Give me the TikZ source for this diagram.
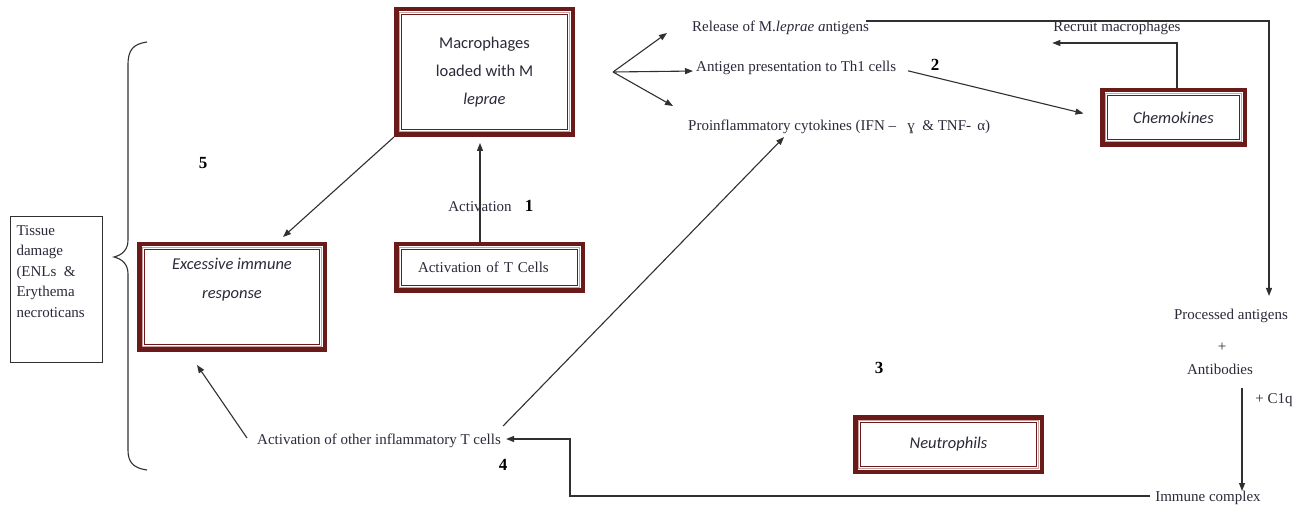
\documentclass[tikz,border=0pt]{standalone}
\usepackage{fontspec}
\setmainfont{Liberation Serif}
\newfontfamily\calib{Carlito}
\usetikzlibrary{arrows.meta}
\definecolor{maroon}{HTML}{6B1A1A}
\definecolor{pinkline}{HTML}{C9A3A3}
\definecolor{txt}{HTML}{2A2A3A}
\definecolor{ln}{HTML}{303030}
\begin{document}
\begin{tikzpicture}[x=1pt,y=-1pt,
  every node/.style={text=txt},
  dbox/.style={draw=maroon, line width=4.5pt, fill=white, inner sep=0pt, align=center,
    font=\calib\fontsize{16.5pt}{28pt}\selectfont,
    path picture={
      \draw[pinkline, line width=1pt] ([shift={(3.2pt,-3.2pt)}]path picture bounding box.north west) rectangle ([shift={(-3.2pt,3.2pt)}]path picture bounding box.south east);
      \draw[maroon, line width=1.3pt] ([shift={(5.5pt,-5.5pt)}]path picture bounding box.north west) rectangle ([shift={(-5.5pt,5.5pt)}]path picture bounding box.south east);}},
  lbl/.style={inner sep=0pt, font=\fontsize{15pt}{18pt}\selectfont},
  num/.style={inner sep=0pt, text=black, font=\bfseries\fontsize{17pt}{18pt}\selectfont},
  arr/.style={-{Triangle[length=8pt,width=6pt]}, draw=ln, line width=1.1pt},
  plain/.style={draw=ln, line width=1.1pt}]
\useasboundingbox[fill=white] (0,0) rectangle (1301,510);

% boxes
\node[dbox, minimum width=176.5pt, minimum height=125.5pt] (mac) at (484.5,72)
  {Macrophages\\loaded with M\\\textit{leprae}};
\node[dbox, minimum width=186.5pt, minimum height=46.5pt, font=\fontsize{15pt}{18pt}\selectfont,
  text width=143pt, align=left, inner xsep=21.75pt] (tcell) at (489.5,267.5) {Activation of T Cells};
\node[dbox, minimum width=185.5pt, minimum height=105.5pt, font=\calib\itshape\fontsize{16.5pt}{29pt}\selectfont] (exc) at (232,297)
  {Excessive immune\\response\\\strut};
\node[dbox, minimum width=142.5pt, minimum height=54.5pt, font=\calib\itshape\fontsize{16.5pt}{20pt}\selectfont] (chemo) at (1173.5,117.5) {Chemokines};
\node[dbox, minimum width=186.5pt, minimum height=54.5pt, font=\calib\itshape\fontsize{16.5pt}{20pt}\selectfont] (neut) at (948.5,444.5) {Neutrophils};

\node[draw=ln, line width=1pt, anchor=north west, inner xsep=5.5pt, inner ysep=8.5pt,
  minimum width=92pt, minimum height=146pt, font=\fontsize{15pt}{20.5pt}\selectfont] (tissue) at (10,216)
  {\begin{minipage}[t][128pt][t]{80pt}\raggedright Tissue\\damage\\(ENLs~ \&\\Erythema\\necroticans\end{minipage}};

% text labels
\node[lbl, anchor=west] (release) at (692,28) {Release of M.\textit{leprae a}ntigens};
\node[lbl, anchor=west] (antigen) at (696,68) {Antigen presentation to Th1 cells};
\node[lbl, anchor=west] (cyto) at (688,127) {Proinflammatory cytokines (IFN –~~ ɣ ~\& TNF- \,α)};
\node[lbl] (recruit) at (1117,28) {Recruit macrophages};
\node[lbl] (proc) at (1231,316) {Processed antigens};
\node[lbl] (plus) at (1222,347) {+};
\node[lbl] (antib) at (1220,369) {Antibodies};
\node[lbl] (c1q) at (1274,400) {+ C1q};
\node[lbl] (immune) at (1208,498) {Immune complex};
\node[lbl, anchor=west] (other) at (257,441) {Activation of other inflammatory T cells};
\node[lbl] (actlbl) at (480,207) {Activation};
\node[num] (n1) at (529,206) {1};
\node[num] (n2) at (935,65) {2};
\node[num] (n3) at (879,368) {3};
\node[num] (n4) at (503,465) {4};
\node[num] (n5) at (203,163) {5};

% brace
\draw[line width=1.1pt, draw=ln] (147,42) .. controls (133,44) and (128,50) .. (128,65) -- (128,240)
  .. controls (128,250) and (122,255) .. (114,257) .. controls (122,259) and (128,264) .. (128,274)
  -- (128,450) .. controls (128,462) and (133,468) .. (147,470);

% connectors
\draw[arr] (mac.south west) -- ([xshift=51pt,yshift=5pt]exc.north);
\draw[arr, shorten >=6pt] ([xshift=-9.5pt]tcell.north) -- ([xshift=-9.5pt]tcell.north |- mac.south);

\coordinate (fk) at (613,72);
\coordinate (fup) at (667,33);
\coordinate (fdn) at (673,106);
\draw[arr] (fk) -- (fup);
\draw[arr, shorten >=3pt] (fk) -- ([yshift=-3pt]antigen.west);
\draw[arr] (fk) -- (fdn);

\coordinate (rc) at (1269,21);
\draw[arr] ([xshift=-3pt,yshift=7pt]release.east) -- (rc) -- ([yshift=13pt]rc |- proc.north);
\draw[arr, shorten <=12pt, shorten >=17pt] (antigen.east) -- (chemo.west);
\draw[arr] ([xshift=3.5pt]chemo.north) |- ([xshift=-1pt,yshift=-15pt]recruit.west);
\draw[arr] ([xshift=2pt,yshift=15pt]other.east) -- ([xshift=96pt,yshift=-3pt]cyto.south west);
\draw[arr] ([xshift=-10pt,yshift=3pt]other.west) -- ([xshift=-35pt,yshift=-13pt]exc.south);

\coordinate (ic) at (570,496);
\draw[arr] ([xshift=-5pt,yshift=2pt]immune.west) -- (ic) |- ([xshift=5pt,yshift=2pt]other.east);
\coordinate (ab) at (1242,388);
\draw[arr] (ab) -- (ab |- immune.north);
\end{tikzpicture}
\end{document}
